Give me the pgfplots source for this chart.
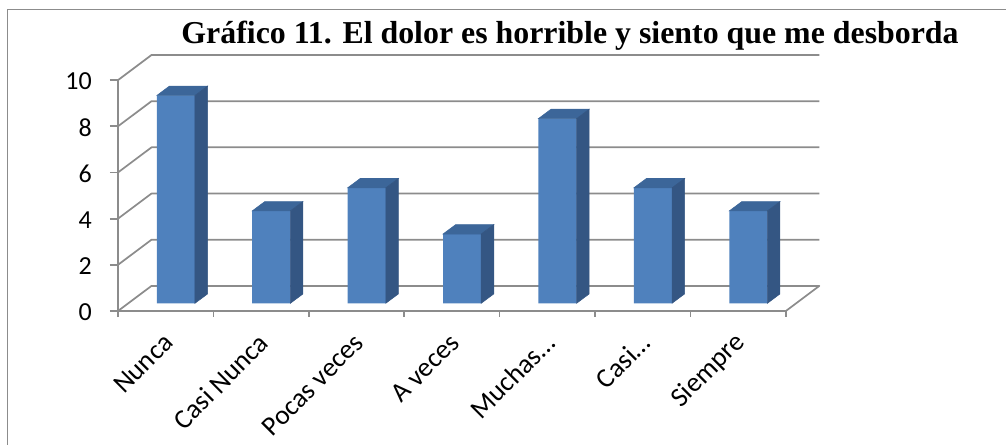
\documentclass[border=0pt]{standalone}
\usepackage{fontspec}
\setmainfont{Carlito}
\newfontfamily\titlefont{Liberation Serif}
\usepackage{pgfplots}
\usepackage{pgfplotstable}
\pgfplotsset{compat=1.18}
\definecolor{frontc}{HTML}{4F81BD}
\definecolor{sidec}{HTML}{345683}
\definecolor{topc}{HTML}{3C6699}
\definecolor{gridc}{HTML}{8C8C8C}

\pgfplotstableread{
x v
0 9
1 4
2 5
3 3
4 8
5 5
6 4
}\data

\begin{document}
\begin{tikzpicture}
\useasboundingbox (0,0) rectangle (754.5pt,333pt);
\draw[gridc, line width=1.1pt] (5.5pt,-10pt) -- (5.5pt,326pt) -- (770pt,326pt);
\node[font=\titlefont\bfseries\fontsize{23.9}{28}\selectfont, anchor=base] at (427.5pt,300.75pt) {Gráfico 11. El dolor es horrible y siento que me desborda};
\begin{axis}[
  at={(88.5pt,99.75pt)}, anchor=south west,
  scale only axis, width=526pt, height=192pt,
  xmin=-0.607, xmax=6.744, ymin=-0.335, ymax=10.752,
  clip=false,
  axis line style={draw=none},
  major tick length=0pt,
  xtick={-0.107,0.893,1.893,2.893,3.893,4.893,5.893},
  xticklabels={Nunca,Casi Nunca,Pocas veces,A veces,Muchas…,Casi…,Siempre},
  ytick={-0.335,1.665,3.665,5.665,7.665,9.665},
  yticklabels={0,2,4,6,8,10},
  yticklabel style={font=\fontsize{19.5}{23}\selectfont, anchor=east, inner sep=0pt, xshift=-19.5pt, yshift=-1pt},
  xticklabel style={font=\fontsize{20.5}{24}\selectfont, inner sep=0pt, xshift=2pt, yshift=-20.5pt, rotate=45, anchor=east},
  grid=none,
]
% floor
\addplot[gridc, line width=1.3pt, line join=round] coordinates {(-0.607,-0.335) (-0.256,0.752) (6.744,0.752) (6.393,-0.335) (-0.607,-0.335)};
% walls
\pgfplotsinvokeforeach{2,4,6,8,10}{
  \addplot[gridc, line width=1.3pt, line join=round] coordinates {(-0.607,#1-0.335) (-0.256,#1+0.752) (6.744,#1+0.752)};
}
% y axis
\addplot[gridc, line width=1.3pt] coordinates {(-0.607,-0.6) (-0.607,9.665)};
% y ticks
\pgfplotsinvokeforeach{-0.335,1.665,3.665,5.665,7.665,9.665}{
  \addplot[gridc, line width=1.3pt] coordinates {(-0.691,#1) (-0.607,#1)};
}
% x ticks
\pgfplotsinvokeforeach{0.393,1.393,2.393,3.393,4.393,5.393,6.393}{
  \addplot[gridc, line width=1.3pt] coordinates {(#1,-0.335) (#1,-0.6)};
}
% bars: front faces
\addplot[ybar, bar width=0.4, bar shift=0pt, fill=frontc, draw=none] table[x=x, y=v] {\data};
% bars: side and top faces
\addplot[scatter, only marks, mark=*, mark size=0pt, mark options={draw=none, fill=none},
  point meta=\thisrow{v},
  visualization depends on={\thisrow{v} \as \val},
  scatter/@pre marker code/.code={%
    \pgfmathsetmacro\Hb{7-\val*17.3176}%
    \pgfmathsetmacro\Hc{-\val*17.3176}%
    \fill[topc] (0pt,0pt) -- (-28.62pt,0pt) -- (-19.22pt,7pt) -- (9.4pt,7pt) -- cycle;
    \fill[sidec] (0pt,0pt) -- (9.4pt,7pt) -- (9.4pt,\Hb pt) -- (0pt,\Hc pt) -- cycle;
    \scope},
  scatter/@post marker code/.code={\endscope}
] table[x expr=\thisrow{x}+0.2, y=v] {\data};
\end{axis}
\end{tikzpicture}
\end{document}
